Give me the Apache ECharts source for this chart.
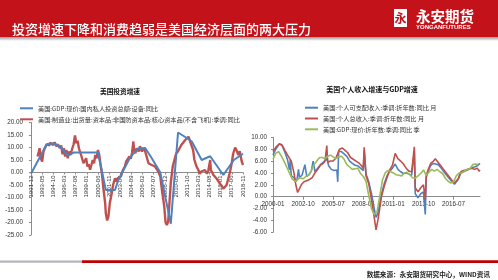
<!DOCTYPE html>
<html><head><meta charset="utf-8">
<script src="https://cdn.jsdelivr.net/npm/echarts@6/dist/echarts.min.js"></script>
<style>html,body{margin:0;padding:0;background:#fff}#c{width:498px;height:280px}</style>
</head><body><div id="c"></div>
<script>
// ---------- text ----------
const pageTitle = '投资增速下降和消费趋弱是美国经济层面的两大压力';
const leftTitle = '美国投资增速';
const rightTitle = '美国个人收入增速与GDP增速';
const sourceText = '数据来源：永安期货研究中心，WIND资讯';
const leftNames = ['美国:GDP:现价:国内私人投资总额:设备:同比', '美国:制造业:出货量:资本品:非国防资本品:核心资本品(不含飞机):季调:同比'];
const rightNames = ['美国:个人可支配收入:季调:折年数:同比 月', '美国:个人总收入:季调:折年数:同比 月', '美国:GDP:现价:折年数:季调:同比 季'];
const leftRange = ['1991-12', '2018-11'];
const rightRange = ['2000-01', '2018-12'];
const leftYTicks = { min: -25, max: 20, step: 5 };
const rightYTicks = { min: -6, max: 10, step: 2 };

// ---------- left chart data ----------
const leftInvest = [
 ['1991-12',-0.5],['1993-12',11.3],['1994-10',11.7],['1995-10',10],['1996-08',6.8],['1997-05',8],
 ['2000-06',8],['2000-09',7.5],['2001-06',-7],['2002-08',-7],['2003-01',-3],['2004-06',5.5],
 ['2005-06',9.5],['2006-06',9.8],['2007-04',5.7],['2008-05',0],['2009-09',-20.5],['2010-08',16],
 ['2011-10',13.7],['2012-05',12.4],['2013-08',5],['2014-09',6.5],['2016-05',-1],['2017-09',5],['2018-11',7.5]
];
const leftOrders = [
 ['1992-10',6.4],['1992-12',8.5],['1993-01',9.7],['1993-03',5.7],['1993-05',4.4],['1993-07',8.4],['1993-09',9.7],
 ['1993-12',11.3],['1994-02',12.1],['1994-04',10.8],['1994-05',11.9],['1994-07',12.4],['1994-10',11],['1994-12',12.1],
 ['1995-03',10.4],['1995-05',11.3],['1995-08',9.7],['1995-10',10.8],['1995-12',7.3],['1996-02',9.7],['1996-04',6.4],
 ['1996-06',9],['1996-08',5.7],['1996-10',8.4],['1996-12',7],['1997-03',9.7],['1997-05',11.3],['1997-07',14.8],
 ['1997-09',11.7],['1997-11',12.7],['1998-01',9.7],['1998-03',10.4],['1998-05',6.4],['1998-08',3.7],['1998-10',3],
 ['1998-12',5.7],['1999-02',2.4],['1999-04',3.3],['1999-06',1.1],['1999-08',3],['1999-10',5],['1999-12',3.7],
 ['2000-02',7],['2000-04',5.7],['2000-06',9],['2000-08',7],['2000-10',3],['2000-12',-0.3],['2001-02',-5.6],
 ['2001-05',-12.3],['2001-06',-16.3],['2001-08',-19.2],['2001-10',-17.6],['2001-12',-12.3],['2002-03',-8.3],
 ['2002-05',-5],['2002-08',-2.3],['2002-10',-3.6],['2002-12',-2.3],['2003-02',-3],['2003-05',-1.6],['2003-08',1],
 ['2003-11',2.4],['2004-01',4.4],['2004-04',5],['2004-06',6.4],['2004-08',5.5],['2004-10',8],['2004-12',12.4],
 ['2005-01',9],['2005-03',7.7],['2005-05',9.7],['2005-08',8.4],['2005-10',10.5],['2006-01',8.4],['2006-03',9.7],
 ['2006-06',8.4],['2006-08',7.7],['2006-11',3.7],['2007-01',4.4],['2007-04',3],['2007-06',3.7],['2007-09',2.4],
 ['2007-11',3],['2008-02',0.4],['2008-05',-1.6],['2008-08',-8],['2008-11',-13.5],['2009-01',-20],['2009-03',-21],
 ['2009-05',-19.5],['2009-07',-12],['2009-09',-4],['2009-12',2.5],['2010-02',4.5],['2010-05',7.5],['2010-08',8.5],
 ['2010-11',9],['2011-01',11],['2011-04',10.5],['2011-07',13],['2011-09',12.5],['2011-12',14.3],['2012-02',13.5],
 ['2012-05',10.5],['2012-07',9],['2012-09',5],['2012-10',5.8],['2012-12',2.5],['2013-03',1],['2013-05',-0.5],
 ['2013-08',0.5],['2013-10',0],['2014-01',1],['2014-04',-0.5],['2014-06',0.5],['2014-09',5],['2014-10',1],
 ['2015-02',-1],['2015-04',-1.5],['2015-07',-2.5],['2015-12',-4.5],['2016-03',-5.5],['2016-05',-6.5],['2016-07',-7],
 ['2016-10',-5],['2016-12',-3],['2017-03',0],['2017-06',4],['2017-08',7.5],['2017-11',10],['2018-01',9],
 ['2018-04',7],['2018-06',8.5],['2018-09',4.5],['2018-11',3]
];

// ---------- right chart data ----------
const rightDisp = [
 ['2000-01',7.0],['2000-04',8.0],['2000-08',8.9],['2000-11',8.6],['2001-02',7.5],['2001-05',6.2],['2001-07',4.5],
 ['2001-08',6.2],['2001-09',3.5],['2001-12',3.2],['2002-03',2.6],['2002-05',4.6],['2002-06',3.2],['2002-09',3.7],
 ['2002-12',5.4],['2003-02',3.4],['2003-05',3.8],['2003-07',4.3],['2003-09',6.0],['2003-11',4.2],['2004-02',4.8],
 ['2004-05',5.4],['2004-08',5.8],['2004-11',6.2],['2004-12',6.6],['2005-02',5.2],['2005-05',4.6],['2005-08',4.4],
 ['2005-11',4.5],['2005-12',2.5],['2006-01',7.6],['2006-04',7.6],['2006-07',7.2],['2006-10',6.8],['2007-01',6.0],
 ['2007-04',5.6],['2007-07',5.3],['2007-10',5.2],['2008-01',4.8],['2008-04',4.4],['2008-05',7.8],['2008-07',3.8],
 ['2008-10',2.5],['2009-01',0.5],['2009-04',-2],['2009-06',-3.5],['2009-08',-2.8],['2009-10',-1.2],['2009-12',0.5],
 ['2010-03',2.2],['2010-06',3.5],['2010-09',4.3],['2010-12',4.8],['2011-03',5.5],['2011-06',4.6],['2011-09',4.2],
 ['2011-12',3.9],['2012-03',4.0],['2012-06',3.8],['2012-09',3.6],['2012-11',3.8],['2012-12',7.5],['2013-01',0.5],
 ['2013-04',-0.2],['2013-07',0.5],['2013-10',0.8],['2013-11',1.0],['2013-12',-3.0],['2014-01',3.2],['2014-03',4.2],
 ['2014-06',5.3],['2014-09',5.6],['2014-11',5.9],['2015-02',5.4],['2015-05',4.9],['2015-08',4.3],['2015-11',3.7],
 ['2016-02',3.1],['2016-05',2.6],['2016-08',2.1],['2016-10',2.2],['2016-12',2.9],['2017-03',4.0],['2017-06',4.2],
 ['2017-09',4.4],['2017-12',4.6],['2018-03',4.9],['2018-06',5.0],['2018-09',5.2],['2018-11',5.0],['2018-12',5.6]
];
const rightIncome = [
 ['2000-01',7.6],['2000-04',8.3],['2000-08',8.9],['2000-11',8.7],['2001-02',7.8],['2001-05',7.0],['2001-09',6.0],
 ['2001-12',4.0],['2002-02',2.0],['2002-04',0.7],['2002-06',1.0],['2002-08',2.0],['2002-11',2.5],['2003-02',2.7],
 ['2003-05',2.9],['2003-08',3.2],['2003-11',4.0],['2004-02',4.6],['2004-05',5.3],['2004-08',5.6],['2004-10',6.0],
 ['2004-12',8.6],['2005-01',5.8],['2005-04',6.0],['2005-07',6.0],['2005-10',6.5],['2005-12',6.4],['2006-02',8.0],
 ['2006-05',8.2],['2006-08',7.8],['2006-11',7.4],['2007-02',6.6],['2007-05',6.3],['2007-08',6.0],['2007-11',5.7],
 ['2008-02',5.2],['2008-04',4.8],['2008-05',8.3],['2008-07',3.5],['2008-10',2.2],['2009-01',-0.5],['2009-04',-3.5],
 ['2009-06',-5.6],['2009-08',-4],['2009-10',-2],['2009-12',0],['2010-03',1.8],['2010-06',3.2],['2010-09',4.5],
 ['2010-12',5.3],['2011-03',7.3],['2011-06',6.4],['2011-09',6.0],['2011-12',5.5],['2012-03',4.8],['2012-06',4.3],
 ['2012-09',4.2],['2012-11',4.5],['2012-12',8.4],['2013-01',1.5],['2013-04',0.8],['2013-07',1.5],['2013-10',2.0],
 ['2013-11',2.2],['2013-12',-0.5],['2014-01',3.5],['2014-03',4.5],['2014-06',5.6],['2014-09',6.0],['2014-11',6.4],
 ['2015-02',5.8],['2015-05',5.2],['2015-08',4.6],['2015-11',4.0],['2016-02',3.4],['2016-05',2.8],['2016-08',2.3],
 ['2016-10',2.3],['2016-12',3.0],['2017-03',4.2],['2017-06',4.4],['2017-09',4.5],['2017-12',4.7],['2018-03',4.8],
 ['2018-06',4.6],['2018-09',4.8],['2018-11',4.3],['2018-12',4.5]
];
const rightGdp = [
 ['2000-01',6.3],['2000-04',7.3],['2000-07',7.6],['2000-10',6.9],['2001-01',6.0],['2001-04',5.0],['2001-07',4.0],
 ['2001-10',3.0],['2002-01',2.6],['2002-04',2.9],['2002-07',3.2],['2002-10',3.0],['2003-01',3.4],['2003-04',3.6],
 ['2003-07',4.4],['2003-10',5.4],['2004-01',6.0],['2004-04',6.6],['2004-07',6.6],['2004-10',6.4],['2005-01',6.8],
 ['2005-04',7.0],['2005-07',6.7],['2005-10',6.4],['2006-01',6.7],['2006-04',6.8],['2006-07',6.3],['2006-10',5.4],
 ['2007-01',5.0],['2007-04',4.6],['2007-07',4.7],['2007-10',4.8],['2008-01',3.9],['2008-04',3.4],['2008-07',2.6],
 ['2008-10',0.2],['2009-01',-2.0],['2009-04',-3.0],['2009-07',-2.6],['2009-10',0.0],['2010-01',2.8],['2010-04',4.0],
 ['2010-07',4.4],['2010-10',4.2],['2011-01',4.0],['2011-04',3.7],['2011-07',3.6],['2011-10',3.5],['2012-01',4.0],
 ['2012-04',4.1],['2012-07',3.7],['2012-10',3.2],['2013-01',3.1],['2013-04',3.5],['2013-07',3.9],['2013-10',4.5],
 ['2014-01',3.6],['2014-04',4.1],['2014-07',4.6],['2014-10',4.3],['2015-01',4.6],['2015-04',4.2],['2015-07',3.9],
 ['2015-10',3.1],['2016-01',2.6],['2016-04',2.3],['2016-07',2.5],['2016-10',3.5],['2017-01',4.0],['2017-04',4.0],
 ['2017-07',4.3],['2017-10',4.6],['2018-01',4.7],['2018-04',5.4],['2018-07',5.5],['2018-10',5.4]
];

// ---------- build ----------
function monthList(a, b) {
  let [y, m] = a.split('-').map(Number); const [y2, m2] = b.split('-').map(Number); const out = [];
  while (y < y2 || (y === y2 && m <= m2)) { out.push(y + '-' + String(m).padStart(2, '0')); m++; if (m > 12) { m = 1; y++; } }
  return out;
}
const leftCats = monthList(leftRange[0], leftRange[1]);
const rightCats = monthList(rightRange[0], rightRange[1]);
const toIdx = (cats, arr) => arr.map(([d, v]) => [cats.indexOf(d), v]);

const C = { blue: '#4f81bd', red: '#c0504d', green: '#9bbb59', axis: '#8c8c8c', txt: '#333' };
const numFont = 'Liberation Sans';
const cjk = 'Noto Sans CJK SC';

// grid geometry (layout only)
const GL = { left: 31, top: 122.5, width: 212, height: 112.5 };
const GR = { left: 273, top: 137.3, width: 207, height: 95 };
// place the category axis at the y=0 level of each grid
const zeroOffset = (g, t) => -g.height * (0 - t.min) / (t.max - t.min);

const chart = echarts.init(document.getElementById('c'), null, { renderer: 'canvas' });
chart.setOption({
  backgroundColor: '#fff',
  animation: false,
  textStyle: { fontFamily: cjk },
  grid: [GL, GR],
  legend: [
    { data: leftNames, orient: 'vertical', left: 15, top: 99.3, itemWidth: 13, itemHeight: 2, itemGap: 3, icon: 'rect',
      textStyle: { fontSize: 6.2, lineHeight: 8, color: C.txt, fontFamily: cjk } },
    { data: rightNames, orient: 'vertical', left: 300, top: 98.7, itemWidth: 13, itemHeight: 2, itemGap: 2.8, icon: 'rect',
      textStyle: { fontSize: 6.2, lineHeight: 8, color: C.txt, fontFamily: cjk } }
  ],
  xAxis: [
    { type: 'category', gridIndex: 0, data: leftCats, boundaryGap: false, position: 'bottom',
      offset: zeroOffset(GL, leftYTicks),
      axisLine: { onZero: false, lineStyle: { color: C.axis } },
      axisTick: { show: true, interval: 16, length: 2, lineStyle: { color: C.axis } },
      axisLabel: { interval: 16, rotate: 90, fontSize: 6, margin: 3, color: C.txt, fontFamily: numFont } },
    { type: 'category', gridIndex: 1, data: rightCats, boundaryGap: false, position: 'bottom',
      offset: zeroOffset(GR, rightYTicks),
      axisLine: { onZero: false, lineStyle: { color: C.axis } },
      axisTick: { show: true, interval: 32, length: 3, lineStyle: { color: C.axis } },
      axisLabel: { interval: 32, fontSize: 6.3, margin: 5, color: C.txt, fontFamily: numFont } }
  ],
  yAxis: [
    { type: 'value', gridIndex: 0, min: leftYTicks.min, max: leftYTicks.max, interval: leftYTicks.step,
      axisLine: { show: true, lineStyle: { color: C.axis } }, splitLine: { show: false },
      axisTick: { show: true, length: 2, lineStyle: { color: C.axis } },
      axisLabel: { fontSize: 6.3, margin: 8, color: C.txt, fontFamily: numFont, formatter: v => v.toFixed(2) } },
    { type: 'value', gridIndex: 1, min: rightYTicks.min, max: rightYTicks.max, interval: rightYTicks.step,
      axisLine: { show: true, lineStyle: { color: C.axis } }, splitLine: { show: false },
      axisTick: { show: true, length: 2, lineStyle: { color: C.axis } },
      axisLabel: { fontSize: 6.3, margin: 6, color: C.txt, fontFamily: numFont, formatter: v => v.toFixed(2) } }
  ],
  series: [
    { name: leftNames[1], type: 'line', xAxisIndex: 0, yAxisIndex: 0, data: toIdx(leftCats, leftOrders),
      showSymbol: false, lineStyle: { color: C.red, width: 2.4 }, itemStyle: { color: C.red } },
    { name: leftNames[0], type: 'line', xAxisIndex: 0, yAxisIndex: 0, data: toIdx(leftCats, leftInvest),
      showSymbol: false, lineStyle: { color: C.blue, width: 2 }, itemStyle: { color: C.blue } },
    { name: rightNames[0], type: 'line', xAxisIndex: 1, yAxisIndex: 1, data: toIdx(rightCats, rightDisp),
      showSymbol: false, lineStyle: { color: C.blue, width: 1.6 }, itemStyle: { color: C.blue } },
    { name: rightNames[1], type: 'line', xAxisIndex: 1, yAxisIndex: 1, data: toIdx(rightCats, rightIncome),
      showSymbol: false, lineStyle: { color: C.red, width: 1.6 }, itemStyle: { color: C.red } },
    { name: rightNames[2], type: 'line', xAxisIndex: 1, yAxisIndex: 1, data: toIdx(rightCats, rightGdp),
      showSymbol: false, lineStyle: { color: C.green, width: 1.6 }, itemStyle: { color: C.green } }
  ],
  graphic: [
    { type: 'rect', shape: { x: 0, y: 0, width: 498, height: 37 }, style: { fill: '#c4121a' }, silent: true },
    { type: 'rect', shape: { x: 0, y: 37, width: 498, height: 4 }, silent: true,
      style: { fill: new echarts.graphic.LinearGradient(0, 0, 0, 1, [{ offset: 0, color: '#9a9a9a' }, { offset: 1, color: '#ffffff' }]) } },
    { type: 'text', x: 12, y: 29.5, silent: true,
      style: { text: pageTitle, fill: '#fff', font: '500 13px "Noto Sans CJK SC"', verticalAlign: 'middle' } },
    { type: 'rect', shape: { x: 394, y: 9, width: 13, height: 18 }, style: { fill: '#fff' }, silent: true },
    { type: 'text', x: 400.5, y: 18, silent: true,
      style: { text: '永', fill: '#c4121a', font: 'bold 12px "Noto Sans CJK SC"', align: 'center', verticalAlign: 'middle' } },
    { type: 'text', x: 416, y: 16.5, silent: true,
      style: { text: '永安期货', fill: '#fff', font: 'bold 14.5px "Noto Sans CJK SC"', verticalAlign: 'middle' } },
    { type: 'text', x: 416, y: 27, silent: true,
      style: { text: 'YONGANFUTURES', fill: '#fff', font: 'bold 6px "Liberation Sans"', verticalAlign: 'middle' } },
    { type: 'text', x: 120, y: 91, silent: true,
      style: { text: leftTitle, fill: '#111', font: 'bold 6.7px "Noto Sans CJK SC"', align: 'center', verticalAlign: 'middle' } },
    { type: 'text', x: 372, y: 89, silent: true,
      style: { text: rightTitle, fill: '#111', font: 'bold 7px "Noto Sans CJK SC"', align: 'center', verticalAlign: 'middle' } },
    { type: 'rect', shape: { x: 0, y: 260.5, width: 82, height: 2.2 }, style: { fill: '#b4b4bc' }, silent: true },
    { type: 'rect', shape: { x: 82, y: 260.3, width: 416, height: 2.6 }, style: { fill: '#c00000' }, silent: true },
    { type: 'text', x: 490, y: 274, silent: true,
      style: { text: sourceText, fill: '#222', font: 'bold 6.6px "Noto Sans CJK SC"', align: 'right', verticalAlign: 'middle' } }
  ]
});
</script></body></html>
